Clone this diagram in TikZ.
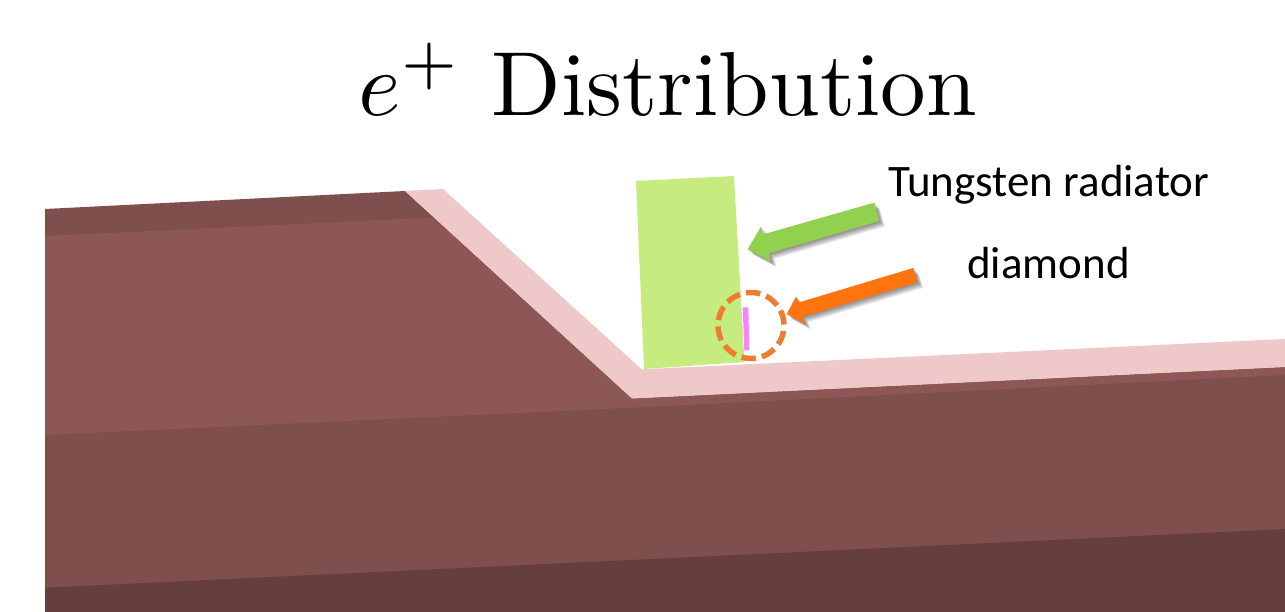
\documentclass[tikz,border=0pt]{standalone}
\usepackage{graphicx}
\usepackage{fontspec}
\newfontfamily\labelfont{Carlito}
\definecolor{darkface}{HTML}{7F4F4E}
\definecolor{lightface}{HTML}{8C5755}
\definecolor{bottomface}{HTML}{673E3E}
\definecolor{pinkface}{HTML}{EFC9C9}
\definecolor{radiator}{HTML}{C6EC80}
\definecolor{diamondc}{HTML}{FF80FF}
\definecolor{arrowgreen}{HTML}{92D050}
\definecolor{arroworange}{HTML}{FF740F}
\definecolor{circleorange}{HTML}{ED7D31}
\tikzset{
  face/.style={fill=#1,draw=none},
  labeltext/.style={inner sep=0pt,font=\labelfont\fontsize{45}{45}\selectfont},
  shadowlayer/.style={fill=black,fill opacity=0.075,draw=none},
}
\begin{document}
\begin{tikzpicture}[x=1pt,y=-1pt]
\useasboundingbox (0,0) rectangle (1285,612);
\fill[white] (0,0) rectangle (1285,612);
% body
\fill[face=darkface] (45,209) -- (405,191) -- (632,398.5) -- (1285,367) -- (1285,612) -- (45,612) -- cycle;
\fill[face=lightface] (45,236) -- (433,217.6) -- (632,398.5) -- (1285,367) -- (1285,375) -- (632,407.7) -- (45,435) -- cycle;
\fill[face=bottomface] (45,587.7) -- (1285,529) -- (1285,612) -- (45,612) -- cycle;
\fill[face=pinkface] (405,191) -- (443,189) -- (641.7,369.3) -- (1285,339) -- (1285,367) -- (632,398.5) -- cycle;
% radiator and diamond
\fill[face=radiator] (636,181) -- (734,176) -- (744.5,362) -- (644,369) -- cycle;
\fill[face=diamondc] (742.7,307.3) -- (748.3,307.3) -- (749.3,350) -- (744.3,350.7) -- cycle;
% circle
\draw[circleorange,line width=5.5pt,dash pattern=on 14.5pt off 6.2pt,dash phase=15.2pt] (751,325.5) circle (33);
% arrows
\foreach \d in {1,2,3,4,5,6,7}{
  \fill[shadowlayer,shift={(0.8*\d,0.8*\d)}] (874.3,202.7) -- (763.3,234.3) -- (761,226.7) -- (747.7,249.3) -- (771,261.7) -- (769,253.3) -- (879.3,221) -- cycle;
  \fill[shadowlayer,shift={(0.8*\d,0.8*\d)}] (913.3,268) -- (799.3,302.3) -- (796,296.7) -- (786.7,314) -- (805.3,324) -- (802.7,316.7) -- (917.7,282.3) -- cycle;
}
\fill[face=arrowgreen] (874.3,202.7) -- (763.3,234.3) -- (761,226.7) -- (747.7,249.3) -- (771,261.7) -- (769,253.3) -- (879.3,221) -- cycle;
\fill[face=arroworange] (913.3,268) -- (799.3,302.3) -- (796,296.7) -- (786.7,314) -- (805.3,324) -- (802.7,316.7) -- (917.7,282.3) -- cycle;
% text
\node[anchor=base west,inner sep=0pt] (title) at (358.5,115.5) {\scalebox{9.1}{$e^+$ Distribution}};
\node[labeltext,anchor=base west] (tungsten) at (888,197) {Tungsten radiator};
\node[labeltext,anchor=base] (diamondlabel) at (1048.5,279) {diamond};
\end{tikzpicture}
\end{document}
